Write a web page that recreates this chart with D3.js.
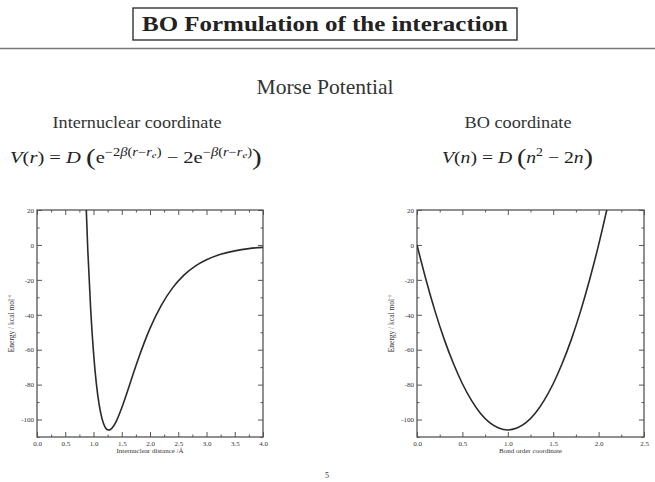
<!DOCTYPE html>
<html><head><meta charset="utf-8">
<script src="https://cdn.jsdelivr.net/npm/d3@7"></script>
<style>body{margin:0;background:#fff}</style>
</head><body>
<svg id="c" width="655" height="482"></svg>
<script>
// ---- data ----
const rValues     = [0.86, 0.90, 0.95, 1.00, 1.05, 1.10, 1.15, 1.20, 1.25, 1.27, 1.30, 1.35, 1.40, 1.50, 1.60, 1.70, 1.80, 1.90, 2.00, 2.20, 2.40, 2.60, 2.80, 3.00, 3.25, 3.50, 3.75, 4.00];
const morseEnergy = [30.6, -3.6, -36.8, -61.5, -79.3, -91.5, -99.4, -104.0, -105.9, -106.0, -105.7, -104.0, -101.2, -93.3, -83.9, -74.1, -64.6, -55.8, -47.8, -34.6, -24.6, -17.3, -12.1, -8.5, -5.4, -3.4, -2.1, -1.4];
const bondOrder   = [0.0, 0.1, 0.2, 0.3, 0.4, 0.5, 0.6, 0.7, 0.8, 0.9, 1.0, 1.1, 1.2, 1.3, 1.4, 1.5, 1.6, 1.7, 1.8, 1.9, 2.0, 2.1];
const boEnergy    = [0.0, -20.1, -38.2, -54.1, -67.8, -79.5, -89.0, -96.5, -101.8, -104.9, -106.0, -104.9, -101.8, -96.5, -89.0, -79.5, -67.8, -54.1, -38.2, -20.1, 0.0, 22.3];
const rTicks      = [0.0, 0.5, 1.0, 1.5, 2.0, 2.5, 3.0, 3.5, 4.0];
const nTicks      = [0.0, 0.5, 1.0, 1.5, 2.0, 2.5];
const energyTicks = [-100, -80, -60, -40, -20, 0, 20];
const energyMinor = [-110, -90, -70, -50, -30, -10, 10];

const svg = d3.select('#c');
const serif = '"Liberation Serif", "Times New Roman", serif';

// ---- slide header ----
svg.append('rect').attr('x', 133).attr('y', 8).attr('width', 384).attr('height', 32)
  .attr('fill', 'none').attr('stroke', '#333').attr('stroke-width', 1.4);
svg.append('text').attr('x', 325).attr('y', 31).attr('text-anchor', 'middle')
  .attr('font-family', serif).attr('font-weight', 'bold').attr('font-size', 22)
  .attr('textLength', 366).attr('lengthAdjust', 'spacingAndGlyphs').attr('fill', '#222')
  .text('BO Formulation of the interaction');
svg.append('line').attr('x1', 0).attr('x2', 655).attr('y1', 48.5).attr('y2', 48.5)
  .attr('stroke', '#777').attr('stroke-width', 1.5);

svg.append('text').attr('x', 325).attr('y', 94).attr('text-anchor', 'middle')
  .attr('font-family', serif).attr('font-size', 21).attr('fill', '#333')
  .attr('textLength', 137).attr('lengthAdjust', 'spacingAndGlyphs')
  .text('Morse Potential');
svg.append('text').attr('x', 137).attr('y', 128).attr('text-anchor', 'middle')
  .attr('font-family', serif).attr('font-size', 16).attr('fill', '#333')
  .attr('textLength', 169).attr('lengthAdjust', 'spacingAndGlyphs')
  .text('Internuclear coordinate');
svg.append('text').attr('x', 518).attr('y', 128).attr('text-anchor', 'middle')
  .attr('font-family', serif).attr('font-size', 16).attr('fill', '#333')
  .attr('textLength', 107).attr('lengthAdjust', 'spacingAndGlyphs')
  .text('BO coordinate');

// ---- formulas ----
function formula(x, y, targetWidth, parts) {
  const g = svg.append('g');
  const t = g.append('text').attr('x', 0).attr('y', 0)
    .attr('font-family', serif).attr('fill', '#222');
  parts.forEach(p => {
    t.append('tspan').text(p.t)
      .attr('font-style', p.i ? 'italic' : 'normal')
      .attr('font-size', p.s || 17)
      .attr('dy', p.dy || 0);
  });
  const bb = t.node().getBBox();
  const sx = targetWidth / bb.width;
  g.attr('transform', `translate(${x - bb.x * sx},${y}) scale(${sx},1)`);
  return g;
}
formula(10, 163, 252, [
  {t: 'V', i: 1}, {t: '('}, {t: 'r', i: 1}, {t: ')'}, {t: ' = '}, {t: 'D', i: 1}, {t: ' '},
  {t: '(', s: 24, dy: 2}, {t: 'e', dy: -2},
  {t: '−2', s: 12, dy: -7}, {t: 'β', i: 1, s: 12}, {t: '(', s: 12}, {t: 'r', i: 1, s: 12}, {t: '−', s: 12}, {t: 'r', i: 1, s: 12},
  {t: 'e', i: 1, s: 9, dy: 2}, {t: ')', s: 12, dy: -2},
  {t: ' − 2e', dy: 7},
  {t: '−', s: 12, dy: -7}, {t: 'β', i: 1, s: 12}, {t: '(', s: 12}, {t: 'r', i: 1, s: 12}, {t: '−', s: 12}, {t: 'r', i: 1, s: 12},
  {t: 'e', i: 1, s: 9, dy: 2}, {t: ')', s: 12, dy: -2},
  {t: ')', s: 24, dy: 9}
]);
formula(442, 163, 151, [
  {t: 'V', i: 1}, {t: '('}, {t: 'n', i: 1}, {t: ')'}, {t: ' = '}, {t: 'D', i: 1}, {t: ' '},
  {t: '(', s: 24, dy: 2}, {t: 'n', i: 1, dy: -2}, {t: '2', s: 12, dy: -7}, {t: ' − 2', dy: 7}, {t: 'n', i: 1},
  {t: ')', s: 24, dy: 2}
]);

// ---- plots ----
function plot(opts) {
  const {x0, x1, y0, y1, xDomain, xTicks, xMinorStep, xs, ys, xLabel, id} = opts;
  const x = d3.scaleLinear().domain(xDomain).range([x0, x1]);
  const y = d3.scaleLinear().domain([-110, 20]).range([y1, y0]);
  const g = svg.append('g');
  const xMinor = d3.range(xDomain[0], xDomain[1] + 1e-9, xMinorStep).filter(v => !xTicks.some(t => Math.abs(t - v) < 1e-9));

  const style = sel => {
    sel.select('.domain').remove();
    sel.selectAll('.tick line').attr('stroke', '#555').attr('stroke-width', 1);
    sel.selectAll('.tick text').attr('font-family', serif).attr('font-size', 7).attr('fill', '#333');
  };
  g.append('g').attr('transform', `translate(0,${y1})`)
    .call(d3.axisBottom(x).tickValues(xTicks).tickSize(-5).tickPadding(4).tickFormat(d3.format('.1f'))).call(style);
  g.append('g').attr('transform', `translate(0,${y1})`)
    .call(d3.axisBottom(x).tickValues(xMinor).tickSize(-2.5).tickFormat('')).call(style);
  g.append('g').attr('transform', `translate(0,${y0})`)
    .call(d3.axisTop(x).tickValues(xTicks).tickSize(-5).tickFormat('')).call(style);
  g.append('g').attr('transform', `translate(0,${y0})`)
    .call(d3.axisTop(x).tickValues(xMinor).tickSize(-2.5).tickFormat('')).call(style);
  g.append('g').attr('transform', `translate(${x0},0)`)
    .call(d3.axisLeft(y).tickValues(energyTicks).tickSize(-5).tickPadding(3).tickFormat(d => String(d))).call(style);
  g.append('g').attr('transform', `translate(${x0},0)`)
    .call(d3.axisLeft(y).tickValues(energyMinor).tickSize(-2.5).tickFormat('')).call(style);
  g.append('g').attr('transform', `translate(${x1},0)`)
    .call(d3.axisRight(y).tickValues(energyTicks).tickSize(-5).tickFormat('')).call(style);
  g.append('g').attr('transform', `translate(${x1},0)`)
    .call(d3.axisRight(y).tickValues(energyMinor).tickSize(-2.5).tickFormat('')).call(style);

  g.append('rect').attr('x', x0).attr('y', y0).attr('width', x1 - x0).attr('height', y1 - y0)
    .attr('fill', 'none').attr('stroke', '#555').attr('stroke-width', 1.3);

  svg.append('clipPath').attr('id', id).append('rect')
    .attr('x', x0).attr('y', y0).attr('width', x1 - x0).attr('height', y1 - y0);
  const pts = xs.map((v, i) => [v, ys[i]]);
  g.append('path').datum(pts).attr('clip-path', `url(#${id})`)
    .attr('fill', 'none').attr('stroke', '#2a2a2a').attr('stroke-width', 1.6)
    .attr('d', d3.line().x(d => x(d[0])).y(d => y(d[1])).curve(d3.curveMonotoneX));

  g.append('text').attr('x', (x0 + x1) / 2).attr('y', y1 + 16).attr('text-anchor', 'middle')
    .attr('font-family', serif).attr('font-size', 7).attr('fill', '#333').text(xLabel);
  const yl = g.append('text').attr('transform', `translate(${opts.yLabelX},${(y0 + y1) / 2}) rotate(-90)`)
    .attr('text-anchor', 'middle').attr('font-family', serif).attr('font-size', 7.5).attr('fill', '#333');
  yl.append('tspan').text('Energy / kcal mol');
  yl.append('tspan').text('-1').attr('font-size', 5).attr('dy', -3);
}

plot({id: 'clipL', x0: 37, x1: 263, y0: 210, y1: 437, xDomain: [0, 4], xTicks: rTicks, xMinorStep: 0.25,
      xs: rValues, ys: morseEnergy, xLabel: 'Internuclear distance /Å', yLabelX: 14});
plot({id: 'clipR', x0: 417, x1: 644, y0: 210, y1: 437, xDomain: [0, 2.5], xTicks: nTicks, xMinorStep: 0.25,
      xs: bondOrder, ys: boEnergy, xLabel: 'Bond order coordinate', yLabelX: 394});

svg.append('text').attr('x', 327).attr('y', 478).attr('text-anchor', 'middle')
  .attr('font-family', serif).attr('font-size', 8).attr('fill', '#333').text('5');
</script>
</body></html>
